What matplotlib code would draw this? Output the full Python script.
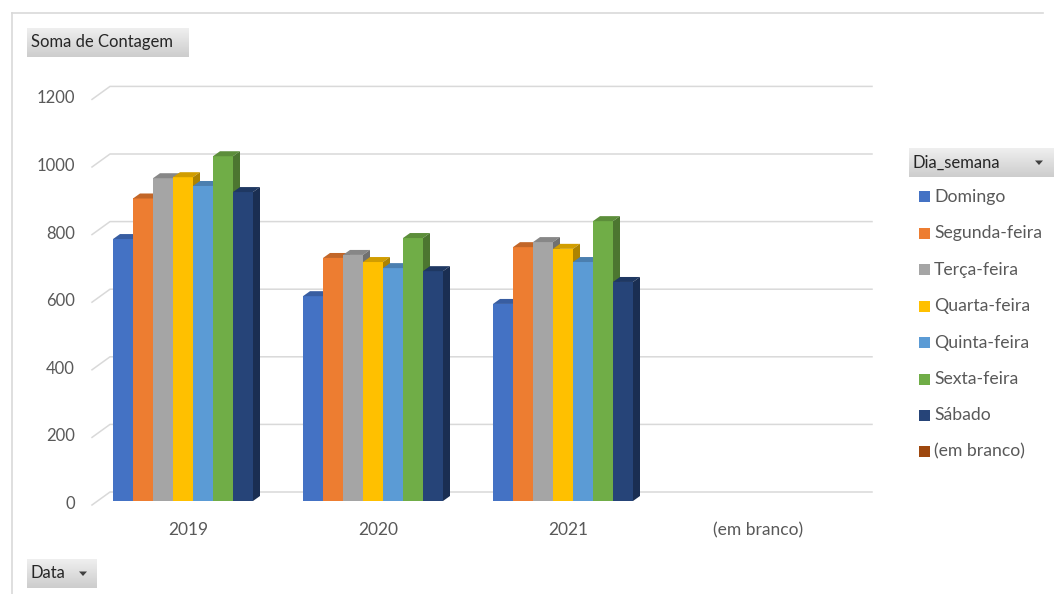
import matplotlib
matplotlib.use("Agg")
import matplotlib.pyplot as plt
import numpy as np
from matplotlib.patches import Polygon, Rectangle
from matplotlib.transforms import blended_transform_factory
from matplotlib.colors import to_rgb, LinearSegmentedColormap

# ---- data -------------------------------------------------------------
years = ["2019", "2020", "2021", "(em branco)"]
weekdays = ["Domingo", "Segunda-feira", "Terça-feira", "Quarta-feira",
            "Quinta-feira", "Sexta-feira", "Sábado", "(em branco)"]
colors = ["#4472C4", "#ED7D31", "#A5A5A5", "#FFC000",
          "#5B9BD5", "#70AD47", "#264478", "#9E480E"]
counts_2019 = [775, 895, 955, 958, 932, 1020, 914]
counts_2020 = [606, 719, 728, 707, 689, 778, 680]
counts_2021 = [583, 751, 766, 746, 707, 828, 648]
counts = [counts_2019, counts_2020, counts_2021, []]
yticks = [0, 200, 400, 600, 800, 1000, 1200]

FONT = "Lato"
TXT = "#595959"
W_PX, H_PX = 1056, 594

fig = plt.figure(figsize=(W_PX / 100, H_PX / 100), dpi=100)
fig.patch.set_facecolor("white")


def fx(px):
    return px / W_PX


def fy(py):
    return 1 - py / H_PX


# plot area (front plane of the columns)
ax_left, ax_right = 92, 872
ax_bottom, ax_top = 501, 95.4
ax = fig.add_axes([fx(ax_left), fy(ax_bottom), fx(ax_right - ax_left),
                   (ax_bottom - ax_top) / H_PX])
cat_px = 190.0
x0 = -0.5 + 4 / cat_px
ax.set_xlim(x0, x0 + (ax_right - ax_left) / cat_px)
ax.set_ylim(0, 1200)
ax.axis("off")

px_x = cat_px                          # pixels per x data unit
px_y = (ax_bottom - ax_top) / 1200.0   # pixels per y data unit

# back-wall gridlines with the small perspective step on the left
blend = blended_transform_factory(ax.transAxes, ax.transData)
back_dy = 9 / px_y
front_dy = 4 / px_y
wall_x = 18 / (ax_right - ax_left)
for v in yticks:
    ax.plot([0, wall_x, 1.0], [v - front_dy, v + back_dy, v + back_dy],
            color="#d9d9d9", lw=1.1, transform=blend, clip_on=False, zorder=1)
    ax.text(-17 / (ax_right - ax_left), v - 3 / px_y, str(v), transform=blend,
            ha="right", va="center", fontsize=12, color=TXT, family=FONT)


def shade(c, f):
    r, g, b = to_rgb(c)
    return (r * f, g * f, b * f)


# 3-D looking clustered columns
n_series = 7
bar_w = 20 / px_x
group_w = n_series * bar_w
ddx = 7 / px_x
ddy = 5 / px_y
z = 3.0
for gi, vals in enumerate(counts):
    for si, h in enumerate(vals):
        xl = gi - group_w / 2 + si * bar_w
        xr = xl + bar_w
        c = colors[si]
        ax.bar(xl, h, width=bar_w, align="edge", color=c, edgecolor="none",
               zorder=z)
        top = Polygon([(xl, h), (xr, h), (xr + ddx, h + ddy), (xl + ddx, h + ddy)],
                      closed=True, facecolor=shade(c, 0.82), edgecolor="none",
                      zorder=z + 0.001)
        side = Polygon([(xr, 0), (xr, h), (xr + ddx, h + ddy), (xr + ddx, ddy)],
                       closed=True, facecolor=shade(c, 0.68), edgecolor="none",
                       zorder=z + 0.002)
        ax.add_patch(top)
        ax.add_patch(side)
        z += 0.01

# category labels
for gi, lab in enumerate(years):
    ax.text(gi + 5 / px_x, -29 / px_y, lab, ha="center", va="center",
            fontsize=12.5, color=TXT, family=FONT, clip_on=False)

# ---- chart frame and field buttons -----------------------------------
fig.add_artist(plt.Line2D([fx(12), fx(12)], [fy(13), 0], color="#d9d9d9",
                          lw=1.2, transform=fig.transFigure))
fig.add_artist(plt.Line2D([fx(12), fx(1043)], [fy(13), fy(13)], color="#d9d9d9",
                          lw=1.2, transform=fig.transFigure))

grad = np.linspace(0, 1, 32).reshape(-1, 1)
btn_cmap = LinearSegmentedColormap.from_list("btn", ["#efefef", "#cdcdcd"])


def button(x0p, y0p, x1p, y1p, label, arrow=None):
    bax = fig.add_axes([fx(x0p), fy(y1p), fx(x1p - x0p), (y1p - y0p) / H_PX])
    bax.imshow(grad, aspect="auto", cmap=btn_cmap, extent=[0, 1, 0, 1],
               origin="upper")
    bax.set_xlim(0, 1)
    bax.set_ylim(0, 1)
    bax.axis("off")
    fig.text(fx(x0p + 4), fy((y0p + y1p) / 2), label, ha="left", va="center",
             fontsize=12, color="#262626", family=FONT)
    if arrow is not None:
        cy = (y0p + y1p) / 2
        tri = Polygon([(fx(arrow - 4), fy(cy - 2)), (fx(arrow + 4), fy(cy - 2)),
                       (fx(arrow), fy(cy + 2.5))], closed=True,
                      facecolor="#404040", edgecolor="none",
                      transform=fig.transFigure)
        fig.add_artist(tri)


button(27, 28, 189, 57, "Soma de Contagem")
button(909, 148, 1054, 177, "Dia_semana", arrow=1039)
button(27, 559, 97, 588, "Data", arrow=83)

# ---- legend ---------------------------------------------------------
leg_y0 = 197
leg_step = 36.4
for i, (name, c) in enumerate(zip(weekdays, colors)):
    cy = leg_y0 + i * leg_step
    fig.add_artist(Rectangle((fx(919), fy(cy + 5.5)), fx(11), 11 / H_PX,
                             facecolor=c, edgecolor="none",
                             transform=fig.transFigure))
    fig.text(fx(934), fy(cy), name, ha="left", va="center", fontsize=12.7,
             color=TXT, family=FONT)

fig.savefig("out.png", dpi=100, facecolor="white")
